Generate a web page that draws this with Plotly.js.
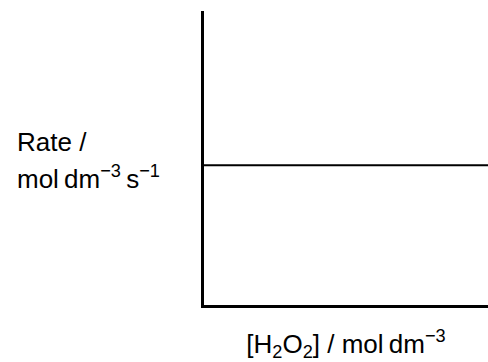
<!DOCTYPE html>
<html>
<head>
<meta charset="utf-8">
<script src="https://cdn.plot.ly/plotly-3.0.1.min.js"></script>
<style>
  html, body { margin: 0; padding: 0; background: #ffffff; }
  #chart { width: 488px; height: 362px; }
</style>
</head>
<body>
<div id="chart"></div>
<script>
// Zero-order reaction: rate independent of [H2O2]
const concentration = [0, 1];
const rate = [0.475, 0.475];

const xLabel = "[H<sub>2</sub>O<sub>2</sub>] / mol\u2009dm<sup>\u22123</sup>";
const yLabelLine1 = "Rate /";
const yLabelLine2 = "mol\u2009dm<sup>\u22123</sup>\u2009s<sup>\u22121</sup>";

const fontFamily = "'Liberation Sans', Arial, sans-serif";

const trace = {
  x: concentration,
  y: rate,
  type: "scatter",
  mode: "lines",
  line: { color: "#000000", width: 2 },
  hoverinfo: "skip",
  showlegend: false
};

const axisCommon = {
  range: [0, 1],
  showline: true,
  linecolor: "#000000",
  linewidth: 3,
  showgrid: false,
  zeroline: false,
  showticklabels: false,
  ticks: "",
  fixedrange: true
};

const layout = {
  width: 488,
  height: 362,
  margin: { l: 204, r: 0, t: 11, b: 57, pad: 0 },
  paper_bgcolor: "#ffffff",
  plot_bgcolor: "#ffffff",
  font: { family: fontFamily, size: 26, color: "#000000" },
  xaxis: Object.assign({}, axisCommon, {
    title: { text: xLabel, font: { family: fontFamily, size: 26, color: "#000000" }, standoff: 35 }
  }),
  yaxis: Object.assign({}, axisCommon),
  annotations: [
    {
      text: yLabelLine1,
      xref: "paper", yref: "paper",
      x: (15 - 204) / 284, y: 0.4966,
      xanchor: "left", yanchor: "bottom",
      showarrow: false,
      font: { family: fontFamily, size: 26, color: "#000000" }
    },
    {
      text: yLabelLine2,
      xref: "paper", yref: "paper",
      x: (15 - 204) / 284, y: 0.4966,
      xanchor: "left", yanchor: "top",
      showarrow: false,
      font: { family: fontFamily, size: 26, color: "#000000" }
    }
  ]
};

Plotly.newPlot("chart", [trace], layout, { displayModeBar: false, staticPlot: true });
</script>
</body>
</html>
